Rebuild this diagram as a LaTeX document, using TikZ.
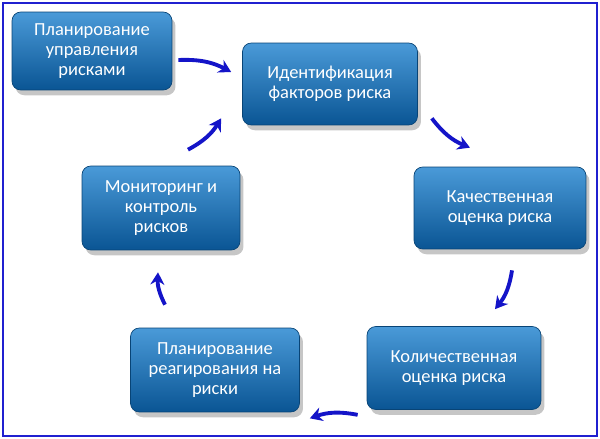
\documentclass[tikz,border=0pt]{standalone}
\usepackage{fontspec}
\setmainfont{Carlito}
\usetikzlibrary{calc,shadows,arrows.meta}
\definecolor{boxtop}{HTML}{4A9AD8}
\definecolor{boxbot}{HTML}{0A5594}
\definecolor{arrowblue}{HTML}{1414C8}
\definecolor{framecol}{HTML}{2020D0}

\begin{document}
\begin{tikzpicture}[x=0.02cm,y=-0.02cm,
  stagebox/.style={draw=boxbot!80!black,rounded corners=5pt,top color=boxtop,bottom color=boxbot,
    text=white,align=center,font=\fontsize{10.5}{11.6}\selectfont,
    drop shadow={opacity=0.45,shadow xshift=2pt,shadow yshift=-3pt}},
  cyclearrow/.style={arrowblue,line width=2.2pt,-{Stealth[length=7pt,width=8pt]}}]
\useasboundingbox (0,0) rectangle (600,439);
\draw[framecol,line width=1.5pt] (3,3) rectangle (597,436);

% stages
\node[stagebox,minimum width=3.2cm,minimum height=1.56cm] (p1) at (92,51) {Планирование\\управления\\рисками};
\node[stagebox,minimum width=3.5cm,minimum height=1.64cm] (p2) at (330,84) {Идентификация\\факторов риска};
\node[stagebox,minimum width=3.44cm,minimum height=1.64cm] (p3) at (500,208) {Качественная\\оценка риска};
\node[stagebox,minimum width=3.48cm,minimum height=1.66cm] (p4) at (454,368) {Количественная\\оценка риска};
\node[stagebox,minimum width=3.38cm,minimum height=1.68cm] (p5) at (215,370) {Планирование\\реагирования на\\риски};
\node[stagebox,minimum width=3.16cm,minimum height=1.68cm] (p6) at (161,208) {Мониторинг и\\контроль\\рисков};

% arrows
\draw[cyclearrow] ($(p1.east)+(6,9)$) to[bend left=15] ($(p2.west)+(-11,-12)$);
\draw[cyclearrow] ($(p2.south east)+(14,-7)$) to[bend right=15] ($(p3.north)+(-30,-19)$);
\draw[cyclearrow] ($(p3.south)+(12,21)$) to[bend left=15] ($(p4.north)+(41,-17)$);
\draw[cyclearrow] ($(p4.south west)+(-9,5)$) to[bend right=15] ($(p5.south east)+(10,6)$);
\draw[cyclearrow] ($(p5.north)+(-50,-23)$) to[bend left=15] ($(p6.south)+(-3,22)$);
\draw[cyclearrow] ($(p6.north)+(27,-16)$) to[bend right=15] ($(p2.south west)+(-21,-7)$);
\end{tikzpicture}
\end{document}
